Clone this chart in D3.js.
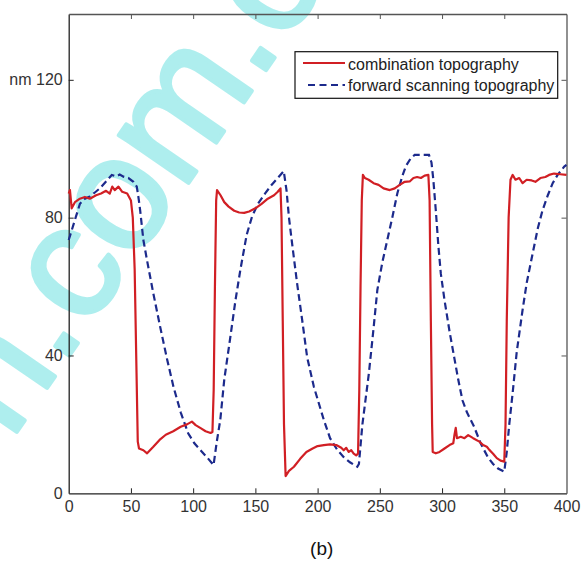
<!DOCTYPE html>
<html>
<head>
<meta charset="utf-8">
<script src="https://cdn.jsdelivr.net/npm/d3@7"></script>
<style>
  html, body { margin: 0; padding: 0; background: #fff; }
  svg { display: block; }
  text { font-family: Arial, "Liberation Sans", sans-serif; }
</style>
</head>
<body>
<svg id="chart" width="585" height="561"></svg>
<script>
// ---- data ----
const combX = [0,1,2.4,5,9,13,17,22,26,30,33,35,37,40,43,47,50,51.5,53,54.5,55.5,56.5,60,63,68,73,78,84,90,95,99,102,106,110,114,115.5,116.5,117.5,118.5,119.2,122,125,128.5,133,137,141,145,150,155,160,165,168,170.2,171,172,173,174.3,177,181,186,191,196,200,205,210,215,219,221,223,225,227,229,231,232.5,233.5,234.5,235.5,236.4,238,241,245,249,253,258,262,266,270,274,277,280,283,286,289,290,291,292,292.5,295,298,302,306,309,310,311,312,315,318,321,325,330,333,336,338,341,344,347,350,351,352,353.5,355,356.7,359,362,364.7,368,372,375,379,383,386,390,395,400];
const combY = [87,88,82.7,84.5,85.5,86,85.5,86.5,87,87.8,87,89,88,89,87.5,87,85,80,65,35,15,13,12.5,11.6,13.5,15.5,17,18,19.3,20,20.8,19.8,18.9,18,17.5,17.8,30,60,85,88,86.5,84.5,83.2,82,81.5,81.4,81.8,82.7,84,85.5,86.5,87.5,88.5,80,50,20,5,6.5,7.7,10,12,13,13.7,14,14.2,14,13.2,12.5,13.2,12,12.5,11.5,11,11.5,30,60,85,92.4,91.5,91,90,89.5,88.5,88,88.5,89.5,90.4,90.5,91.5,91.8,91.5,92.2,92.4,85,50,20,12,11.6,12,13,14,14.5,17,19,16,16.4,16,16.9,16,15,14,13.5,12.6,11.5,10.2,9.5,9.2,20,50,80,91,92.4,91,91.5,90,91,90.8,90.4,91.5,91.8,92.4,92.8,92.6,92.4];

const fwdX = [0,3,6,9,13,17,21,25,30,34.6,38,41,44,48,52,54.7,56,57.4,60,63,68,73.5,79,84.2,90,96,101,105.7,111,116.4,119,121.8,125,129.9,134,138,143,147.3,152,158,163,168,172.8,175,177,179.5,183.5,187.6,191.6,197,205,210,215.8,221,226,231.9,233.2,236,241.2,245,248,252,256,260,264.1,268,271,274.8,278,283,289.5,291.5,293,295,297,299,302,306,309.7,313,316.4,320,325.8,331,336.6,341,345,350,352,354,356.7,360,364.7,368,372.8,377,380.8,385,388.9,393,398.2,400];
const fwdY = [73.5,77,80.5,84,85.5,86.1,87.3,88.5,90.5,92.4,92,92.5,91.9,91.5,90.4,89,86,82.2,73.5,67.5,58,48.3,39,30.9,23.5,17.4,14.5,12.6,10.5,8.2,15,21.3,33,45.4,56,65,75,80.3,84,87.1,89.5,91.5,93.5,88,80,72.5,61,50.3,39.5,30.9,21.3,16,12.6,10.5,9,7.7,8.5,20,34.8,48,59,67,73.5,80,87.1,92,95,97.2,98.2,98.2,98.2,96,91,82,72,63.8,56,47,39.6,33,27,23.5,19.3,14.5,10.6,8.5,7.2,6.3,12,20,29,41,53.2,61,69.6,77,82.2,86.5,90,92.5,94.8,95.3];

const xTicks = [0,50,100,150,200,250,300,350,400];
const yTicks = [0,40,80,120];
const seriesNames = ["combination topography", "forward scanning topography"];
const caption = "(b)";
const watermark = "n.com.c";

// ---- drawing ----
const svg = d3.select("#chart");
const L = 68.7, R = 566.5, T = 14, B = 493.3;
const x = d3.scaleLinear().domain([0, 400]).range([L, R]);
const y = d3.scaleLinear().domain([0, 139.1]).range([B, T]);

const redC = "#d11f24", blueC = "#1c2a8c";

// watermark (underneath)
svg.append("text")
  .attr("transform", "translate(10.4,441) rotate(-55.4)")
  .attr("font-size", 160).attr("font-weight", "normal")
  .attr("font-family", "Arial, 'Liberation Sans', sans-serif")
  .attr("fill", "#aeeeee").attr("stroke", "#aeeeee").attr("stroke-width", 4)
  .attr("stroke-linejoin", "round")
  .text(watermark);

// axes
const fmtY = d => d === 120 ? "nm 120" : String(d);
const axB = svg.append("g").attr("transform", `translate(0,${B})`)
  .call(d3.axisBottom(x).tickValues(xTicks).tickSizeInner(-5).tickSizeOuter(0).tickPadding(7).tickFormat(d3.format("d")));
const axL = svg.append("g").attr("transform", `translate(${L},0)`)
  .call(d3.axisLeft(y).tickValues(yTicks).tickSizeInner(-5).tickSizeOuter(0).tickPadding(6).tickFormat(fmtY));
const axT = svg.append("g").attr("transform", `translate(0,${T})`)
  .call(d3.axisTop(x).tickValues(xTicks).tickSizeInner(-5).tickSizeOuter(0).tickFormat(""));
const axR = svg.append("g").attr("transform", `translate(${R},0)`)
  .call(d3.axisRight(y).tickValues(yTicks).tickSizeInner(-5).tickSizeOuter(0).tickFormat(""));

[axB, axL].forEach(a => {
  a.selectAll("path.domain").attr("stroke", "#222").attr("stroke-width", 1.3);
  a.selectAll(".tick line").attr("stroke", "#222");
  a.selectAll(".tick text").attr("font-size", 16).attr("fill", "#333")
    .attr("font-family", "Arial, 'Liberation Sans', sans-serif");
});
[axT, axR].forEach(a => {
  a.selectAll("path.domain").attr("stroke", "#555").attr("stroke-width", 1.3);
  a.selectAll(".tick line").attr("stroke", "#555");
});
axT.selectAll(".tick").filter(d => d === 0 || d === 400).remove();
axR.selectAll(".tick").filter(d => d === 0).remove();
axB.selectAll(".tick line").filter(d => d === 0 || d === 400).remove();
axL.selectAll(".tick line").filter(d => d === 0).remove();

// lines
const lineGen = (xs, ys) => d3.line().x((d, i) => x(xs[i])).y((d, i) => y(ys[i]))(xs);
svg.append("path").attr("d", lineGen(fwdX, fwdY))
  .attr("fill", "none").attr("stroke", blueC).attr("stroke-width", 2.2)
  .attr("stroke-dasharray", "7,4");
svg.append("path").attr("d", lineGen(combX, combY))
  .attr("fill", "none").attr("stroke", redC).attr("stroke-width", 2.2)
  .attr("stroke-linejoin", "round");

// legend
const lg = svg.append("g");
lg.append("rect").attr("x", 295).attr("y", 51.7).attr("width", 262.7).attr("height", 46.6)
  .attr("fill", "#fff").attr("stroke", "#111").attr("stroke-width", 1.2);
lg.append("line").attr("x1", 303).attr("x2", 345).attr("y1", 63).attr("y2", 63)
  .attr("stroke", redC).attr("stroke-width", 2.2);
lg.append("line").attr("x1", 308).attr("x2", 345).attr("y1", 85).attr("y2", 85)
  .attr("stroke", blueC).attr("stroke-width", 2.2).attr("stroke-dasharray", "7,4.5");
lg.append("text").attr("x", 348).attr("y", 70).attr("font-size", 16).attr("fill", "#222").text(seriesNames[0]);
lg.append("text").attr("x", 348).attr("y", 91).attr("font-size", 16).attr("fill", "#222").text(seriesNames[1]);

// caption
svg.append("text").attr("x", 321.7).attr("y", 555).attr("text-anchor", "middle")
  .attr("font-family", "'Liberation Serif', 'Times New Roman', serif")
  .attr("font-size", 19).attr("fill", "#111").text(caption);
</script>
</body>
</html>
